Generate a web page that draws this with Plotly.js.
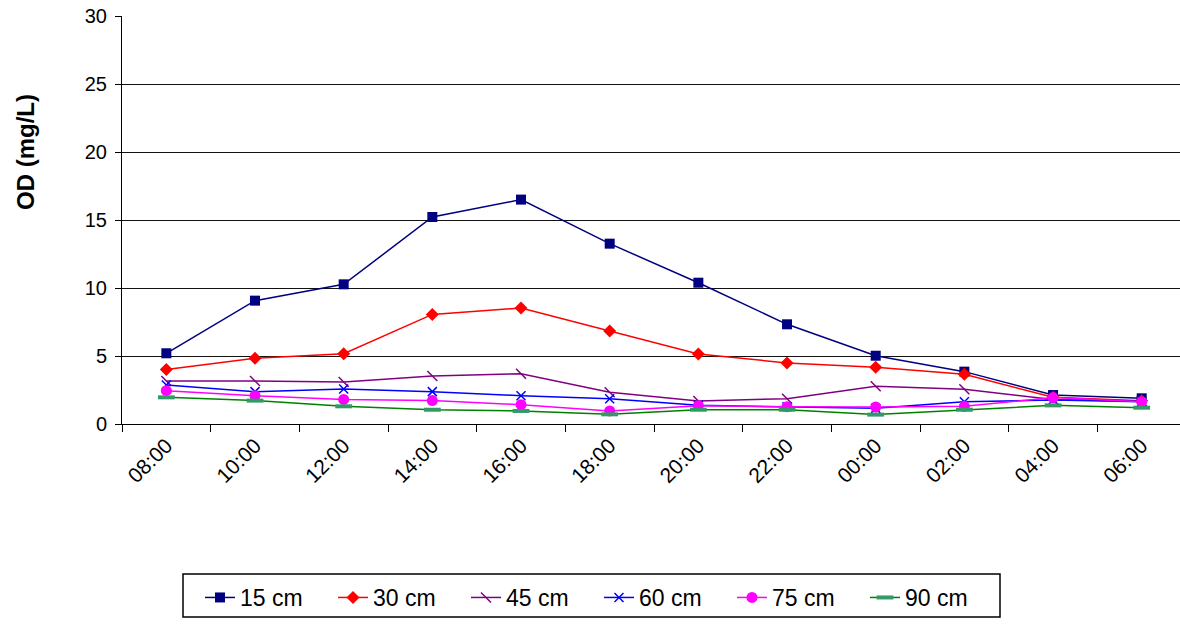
<!DOCTYPE html>
<html>
<head>
<meta charset="utf-8">
<script src="https://cdn.plot.ly/plotly-3.0.1.min.js"></script>
<style>
  html, body { margin: 0; padding: 0; background: #fff; }
  #chart { width: 1180px; height: 626px; }
</style>
</head>
<body>
<div id="chart"></div>
<script>
// Sampling times (every 2 h over one day)
const times = ["08:00", "10:00", "12:00", "14:00", "16:00", "18:00",
               "20:00", "22:00", "00:00", "02:00", "04:00", "06:00"];

// Dissolved oxygen (mg/L) at each depth
const od15 = [5.2, 9.07, 10.27, 15.22, 16.5, 13.26, 10.39, 7.33, 5.02, 3.85, 2.13, 1.89];
const od30 = [4.0, 4.83, 5.17, 8.06, 8.53, 6.84, 5.15, 4.49, 4.17, 3.65, 1.96, 1.71];
const od45 = [3.16, 3.16, 3.09, 3.53, 3.7, 2.33, 1.69, 1.86, 2.77, 2.55, 1.81, 1.69];
const od60 = [2.87, 2.38, 2.57, 2.38, 2.08, 1.86, 1.37, 1.27, 1.15, 1.64, 1.76, 1.64];
const od75 = [2.45, 2.08, 1.81, 1.72, 1.42, 0.96, 1.35, 1.27, 1.25, 1.3, 1.94, 1.64];
const od90 = [1.96, 1.72, 1.3, 1.05, 0.96, 0.71, 1.05, 1.05, 0.69, 1.05, 1.37, 1.2];

const seriesNames = ["15 cm", "30 cm", "45 cm", "60 cm", "75 cm", "90 cm"];
const yTickVals = [0, 5, 10, 15, 20, 25, 30];

const FONT = "Liberation Sans, Arial, sans-serif";

function series(name, y, lineColor, marker) {
  return {
    type: "scatter", mode: "lines+markers", name: name,
    x: times, y: y,
    line: { color: lineColor, width: 1.5 },
    marker: marker,
    cliponaxis: false
  };
}

const traces = [
  series(seriesNames[0], od15, "#000080", { symbol: "square", size: 10, color: "#000080" }),
  series(seriesNames[1], od30, "#FF0000", { symbol: "diamond", size: 10, color: "#FF0000" }),
  series(seriesNames[2], od45, "#800080", { symbol: "line-nw", size: 10, color: "#800080", line: { color: "#800080", width: 1.5 } }),
  series(seriesNames[3], od60, "#0000FF", { symbol: "x-thin", size: 9, color: "#0000FF", line: { color: "#0000FF", width: 1.5 } }),
  series(seriesNames[4], od75, "#FF00FF", { symbol: "circle", size: 11, color: "#FF00FF" }),
  series(seriesNames[5], od90, "#008000", { symbol: "line-ew", size: 12, color: "#339966", line: { color: "#339966", width: 4 } })
];

const W = 1180, H = 626;
// The plot area runs off the right edge of the page, so the category
// range is trimmed to what fits in the remaining width.
const plotL = 122, plotR = 0, plotT = 16, plotB = 202;
const plotW = W - plotL - plotR, plotH = H - plotT - plotB;
const catStep = 88.67;
const xMax = -0.5 + plotW / catStep;
// pixel -> paper helpers for items placed outside the plot area
const px = (x) => (x - plotL) / plotW;
const py = (y) => (plotT + plotH - y) / plotH;

const layout = {
  width: W, height: H,
  margin: { l: plotL, r: plotR, t: plotT, b: plotB, pad: 0 },
  paper_bgcolor: "#ffffff", plot_bgcolor: "#ffffff",
  font: { family: FONT, color: "#000" },
  showlegend: true,
  xaxis: {
    type: "category",
    range: [-0.5, xMax],
    tickangle: -45,
    tickson: "boundaries",
    ticks: "outside", ticklen: 7, tickcolor: "#000", tickwidth: 1,
    showline: true, linecolor: "#000", linewidth: 1,
    showgrid: false, zeroline: false,
    tickfont: { size: 21, family: FONT },
    automargin: false,
    fixedrange: true
  },
  yaxis: {
    range: [0, 30],
    tickvals: yTickVals,
    ticks: "outside", ticklen: 6, tickcolor: "#000", tickwidth: 1,
    showline: true, linecolor: "#000", linewidth: 1,
    showgrid: true, gridcolor: "#111", gridwidth: 1,
    zeroline: false,
    tickfont: { size: 20, family: FONT },
    ticklabelstandoff: 4,
    automargin: false,
    fixedrange: true
  },
  shapes: [{
    type: "rect", xref: "paper", yref: "paper",
    x0: px(183), x1: px(1000), y0: py(574), y1: py(617),
    line: { color: "#000", width: 1.5 }, fillcolor: "rgba(0,0,0,0)"
  }],
  annotations: [{
    text: "<b>OD (mg/L)</b>",
    xref: "paper", yref: "paper",
    x: px(25), y: py(152),
    xanchor: "center", yanchor: "middle",
    textangle: -90, showarrow: false,
    font: { size: 24, family: FONT, color: "#000" }
  }],
  legend: {
    orientation: "h",
    xref: "container", yref: "container",
    x: 200 / W, xanchor: "left",
    y: 1 - 576 / H, yanchor: "top",
    borderwidth: 0, bgcolor: "rgba(0,0,0,0)",
    font: { size: 23, family: FONT, color: "#000" },
    itemwidth: 30,
    entrywidth: 88, entrywidthmode: "pixels",
    tracegroupgap: 0
  }
};

Plotly.newPlot("chart", traces, layout, { displayModeBar: false, staticPlot: true });
</script>
</body>
</html>
